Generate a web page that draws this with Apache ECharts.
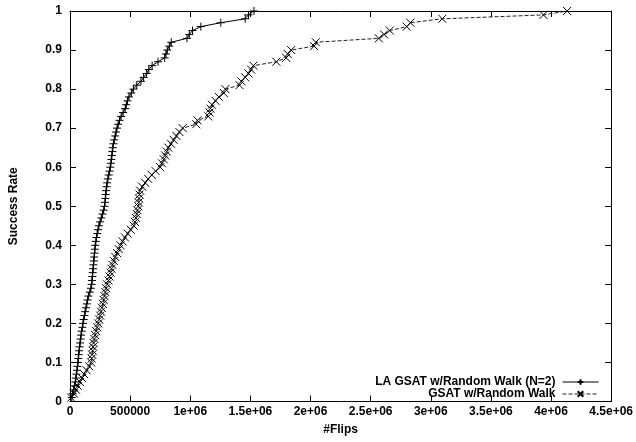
<!DOCTYPE html>
<html>
<head>
<meta charset="utf-8">
<script src="https://cdn.jsdelivr.net/npm/echarts@6/dist/echarts.min.js"></script>
<style>
  html, body { margin: 0; padding: 0; background: #fff; }
  #chart { width: 636px; height: 442px; }
</style>
</head>
<body>
<div id="chart"></div>
<script>
/* Success-rate CDF of two GSAT variants vs number of flips (gnuplot look). */
const rates = [];
for (let i = 1; i <= 100; i++) rates.push(i / 100);

// flips needed to reach each success level 0.01 .. 1.00
const laFlips = [
  15000, 22000, 30000, 37000, 44000, 49000, 53000, 58000, 62000, 66000,
  69000, 72000, 76000, 80000, 84000, 88000, 92000, 97000, 103000, 108000,
  114000, 120000, 126000, 133000, 140000, 146000, 153000, 165000, 174000, 180000,
  183000, 186000, 189000, 192000, 195000, 198000, 201000, 204000, 207000, 210000,
  215000, 220000, 226000, 233000, 240000, 250000, 260000, 270000, 280000, 287000,
  291000, 294000, 297000, 300000, 305000, 309000, 315000, 322000, 329000, 335000,
  340000, 344000, 348000, 352000, 356000, 361000, 368000, 376000, 383000, 391000,
  400000, 412000, 425000, 442000, 459000, 468000, 478000, 490000, 510000, 527000,
  555000, 590000, 612000, 637000, 655000, 683000, 732000, 787000, 798000, 809000,
  826000, 842000, 973000, 992000, 1019000, 1088000, 1254000, 1457000, 1484000, 1530000
];
const gsatFlips = [
  10000, 33000, 50000, 66000, 82000, 100000, 118000, 138000, 160000, 176000,
  180000, 184000, 188000, 192000, 196000, 203000, 210000, 218000, 226000, 235000,
  243000, 251000, 258000, 265000, 273000, 280000, 287000, 294000, 301000, 309000,
  320000, 329000, 337000, 345000, 353000, 364000, 377000, 392000, 406000, 420000,
  437000, 457000, 480000, 505000, 530000, 540000, 548000, 555000, 561000, 568000,
  571000, 574000, 578000, 583000, 601000, 625000, 650000, 680000, 712000, 750000,
  765000, 780000, 792000, 805000, 818000, 840000, 862000, 885000, 910000, 937000,
  1050000, 1060000, 1150000, 1160000, 1168000, 1180000, 1210000, 1238000, 1279000, 1292000,
  1410000, 1425000, 1457000, 1484000, 1506000, 1525000, 1716000, 1798000, 1810000, 1839000,
  2030000, 2044000, 2568000, 2612000, 2659000, 2800000, 2830000, 3096000, 3937000, 4134000
];

const xTickLabels = ["0", "500000", "1e+06", "1.5e+06", "2e+06", "2.5e+06", "3e+06", "3.5e+06", "4e+06", "4.5e+06"];
const yTickLabels = ["0", "0.1", "0.2", "0.3", "0.4", "0.5", "0.6", "0.7", "0.8", "0.9", "1"];
const seriesNames = ["LA GSAT w/Random Walk (N=2)", "GSAT w/Random Walk"];

const FONT = "Liberation Sans";
const PLUS = "path://M0,4L8,4M4,0L4,8";
const CROSS = "path://M0,0L8,8M8,0L0,8";

const axisCommon = {
  axisLine: { show: true, onZero: false, lineStyle: { color: "#000", width: 1 } },
  axisTick: { show: true, inside: true, length: 6, lineStyle: { color: "#000" } },
  splitLine: { show: false },
};

const xBase = Object.assign({ type: "value", min: 0, max: 4500000, interval: 500000 }, axisCommon);
const yBase = Object.assign({ type: "value", min: 0, max: 1, interval: 0.1 }, axisCommon);

const chart = echarts.init(document.getElementById("chart"), null, { renderer: "canvas" });
chart.setOption({
  animation: false,
  backgroundColor: "#fff",
  grid: { left: 64, right: 24, top: 11, bottom: 40.5 },
  xAxis: [
    Object.assign({}, xBase, {
      position: "bottom",
      name: "#Flips", nameLocation: "middle", nameGap: 22,
      nameTextStyle: { fontFamily: FONT, fontWeight: "bold", fontSize: 12, color: "#000" },
      axisLabel: {
        margin: 4, fontFamily: FONT, fontWeight: "bold", fontSize: 12, color: "#000",
        formatter: (v) => xTickLabels[Math.round(v / 500000)],
      },
    }),
    Object.assign({}, xBase, { position: "top", axisLabel: { show: false } }),
  ],
  yAxis: [
    Object.assign({}, yBase, {
      position: "left",
      name: "Success Rate", nameLocation: "middle", nameGap: 50, nameRotate: 90,
      nameTextStyle: { fontFamily: FONT, fontWeight: "bold", fontSize: 12, color: "#000" },
      axisLabel: {
        margin: 8, fontFamily: FONT, fontWeight: "bold", fontSize: 12, color: "#000",
        formatter: (v) => yTickLabels[Math.round(v * 10)],
      },
    }),
    Object.assign({}, yBase, { position: "right", axisLabel: { show: false } }),
  ],
  legend: {
    orient: "vertical", right: 32, top: 371, align: "right",
    itemWidth: 36, itemHeight: 7, itemGap: 0,
    lineStyle: { width: 1 },
    textStyle: { fontFamily: FONT, fontWeight: "bold", fontSize: 12, color: "#000", padding: [0, 2, 0, 0], lineHeight: 12 },
    data: seriesNames,
  },
  series: [
    {
      name: seriesNames[0], type: "line",
      data: laFlips.map((x, i) => [x, rates[i]]),
      symbol: PLUS, symbolSize: 8,
      itemStyle: { color: "#000", borderColor: "#000", borderWidth: 1 },
      lineStyle: { color: "#000", width: 1 },
      z: 3,
    },
    {
      name: seriesNames[1], type: "line",
      data: gsatFlips.map((x, i) => [x, rates[i]]),
      symbol: CROSS, symbolSize: 8,
      itemStyle: { color: "#000", borderColor: "#000", borderWidth: 1 },
      lineStyle: { color: "#222", width: 1, type: [4, 2] },
      z: 2,
    },
  ],
});
</script>
</body>
</html>
